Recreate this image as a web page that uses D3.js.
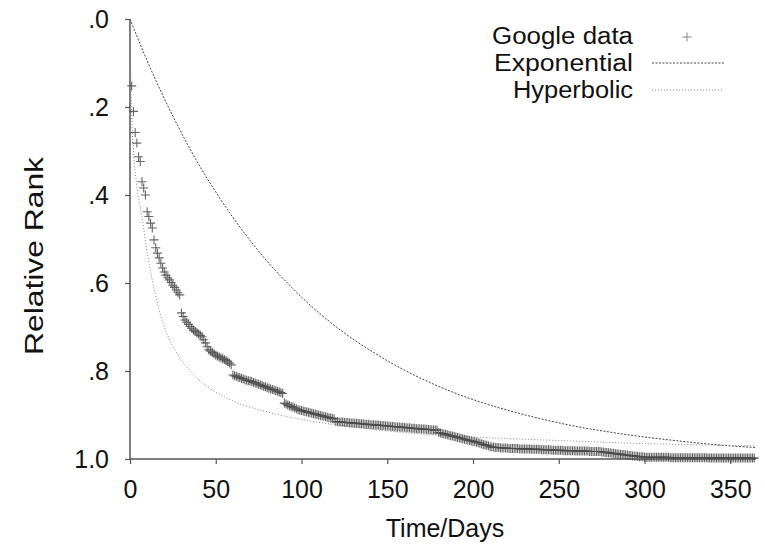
<!DOCTYPE html>
<html>
<head>
<meta charset="utf-8">
<script src="https://cdn.jsdelivr.net/npm/d3@7"></script>
<style>
  html, body { margin: 0; padding: 0; background: #fff; }
  svg { display: block; }
  text { font-family: "Liberation Sans", Arial, Helvetica, sans-serif; fill: #111; }
</style>
</head>
<body>
<svg id="chart" width="765" height="546"></svg>
<script>
// ---------------- data ----------------
const xTicks = [0, 50, 100, 150, 200, 250, 300, 350];
const yTicks = [0, 0.2, 0.4, 0.6, 0.8, 1.0];
const yTickLabels = [".0", ".2", ".4", ".6", ".8", "1.0"];

const seriesNames = ["Google data", "Exponential", "Hyperbolic"];

// Google data: one value per day, starting at day 1
const googleStartDay = 1;
const googleRank = [
  .152,.210,.258,.282,.313,.324,.370,.384,.400,.438,
  .449,.464,.475,.502,.520,.532,.543,.555,.566,.575,
  .582,.588,.593,.599,.605,.610,.616,.622,.627,.668,
  .676,.684,.689,.694,.699,.703,.707,.710,.713,.716,
  .719,.722,.729,.736,.745,.752,.755,.758,.761,.764,
  .766,.768,.770,.772,.774,.776,.779,.782,.786,.809,
  .811,.812,.814,.815,.817,.818,.820,.821,.822,.823,
  .824,.826,.827,.829,.830,.832,.833,.835,.836,.838,
  .839,.841,.842,.843,.845,.846,.848,.849,.851,.873,
  .875,.877,.879,.881,.882,.884,.886,.888,.889,.890,
  .891,.892,.893,.894,.895,.896,.897,.898,.899,.900,
  .901,.902,.903,.904,.905,.906,.907,.908,.909,.915,
  .915,.916,.916,.916,.917,.917,.917,.918,.918,.918,
  .919,.919,.919,.920,.920,.920,.921,.921,.921,.922,
  .922,.922,.923,.923,.923,.924,.924,.924,.925,.925,
  .925,.926,.926,.926,.927,.927,.927,.928,.928,.928,
  .929,.929,.929,.930,.930,.930,.931,.931,.931,.932,
  .932,.932,.933,.933,.933,.934,.934,.934,.934,.940,
  .941,.942,.943,.944,.945,.946,.947,.948,.949,.950,
  .951,.952,.953,.954,.955,.956,.957,.958,.959,.960,
  .961,.962,.963,.964,.966,.967,.968,.969,.970,.972,
  .973,.973,.974,.974,.974,.975,.975,.975,.975,.975,
  .976,.976,.976,.976,.976,.976,.977,.977,.977,.977,
  .977,.977,.977,.978,.978,.978,.978,.978,.978,.979,
  .979,.979,.979,.979,.979,.980,.980,.980,.980,.980,
  .980,.980,.981,.981,.981,.981,.981,.981,.981,.982,
  .982,.982,.982,.982,.982,.982,.982,.983,.983,.983,
  .983,.983,.983,.983,.984,.984,.985,.985,.986,.986,
  .987,.987,.988,.988,.989,.989,.990,.990,.991,.991,
  .992,.992,.993,.993,.994,.994,.995,.995,.995,.996,
  .996,.996,.996,.996,.996,.996,.996,.996,.996,.996,
  .996,.996,.996,.996,.997,.997,.997,.997,.997,.997,
  .997,.997,.997,.997,.997,.997,.997,.997,.997,.997,
  .997,.997,.997,.997,.997,.997,.998,.998,.998,.998,
  .998,.998,.998,.998,.998,.998,.998,.998,.998,.998,
  .998,.998,.998,.998,.998,.998,.998,.998,.998,.998,
  .998,.998,.998,.998
];

// Exponential fit
const expDays = [0, 10, 20, 30, 40, 50, 60, 70, 80, 90, 100, 120, 140, 160, 180, 200, 220, 240, 260, 280, 300, 320, 340, 365];
const expRank = [0, .095, .181, .259, .330, .393, .451, .503, .551, .593, .632, .699, .753, .798, .835, .865, .889, .909, .926, .939, .950, .959, .967, .974];

// Hyperbolic fit
const hypDays = [0, 0.5, 1, 2, 4, 7, 10, 15, 20, 26, 35, 45, 60, 80, 100, 130, 160, 200, 250, 300, 365];
const hypRank = [0, .15, .22, .30, .38, .45, .53, .63, .70, .75, .80, .835, .868, .893, .910, .927, .940, .950, .958, .965, .970];

// ---------------- chart ----------------
const svg = d3.select("#chart");
const x = d3.scaleLinear().domain([0, 365]).range([130, 756]);
const y = d3.scaleLinear().domain([0, 1]).range([19, 459]);

const axisColor = "#555";

// Y axis
const yAxis = svg.append("g")
  .attr("transform", `translate(${x(0)},0)`)
  .call(d3.axisLeft(y).tickValues(yTicks).tickSize(5).tickPadding(16)
        .tickFormat((d, i) => yTickLabels[i]));
// X axis
const xAxis = svg.append("g")
  .attr("transform", `translate(0,${y(1)})`)
  .call(d3.axisBottom(x).tickValues(xTicks).tickSize(5).tickPadding(16)
        .tickFormat(d3.format("d")));

[yAxis, xAxis].forEach(g => {
  g.select(".domain").attr("stroke", axisColor).attr("stroke-width", 1.5);
  g.selectAll(".tick line").attr("stroke", axisColor).attr("stroke-width", 1.2);
  g.selectAll(".tick text")
    .attr("font-family", '"Liberation Sans", Arial, sans-serif')
    .attr("font-size", 25).attr("fill", "#111");
});
yAxis.select(".domain").attr("d", `M0,${y(0)}V${y(1)}`);
xAxis.select(".domain").attr("d", `M${x(0)},0H${x(365)}`);

// Axis titles
svg.append("text")
  .attr("x", 445).attr("y", 537)
  .attr("text-anchor", "middle")
  .attr("font-size", 25)
  .text("Time/Days");

svg.append("text")
  .attr("transform", "translate(43,256) rotate(-90)")
  .attr("text-anchor", "middle")
  .attr("font-size", 25)
  .attr("textLength", 198)
  .attr("lengthAdjust", "spacingAndGlyphs")
  .text("Relative Rank");

// Curves
const line = d3.line().x(d => x(d[0])).y(d => y(d[1])).curve(d3.curveMonotoneX);

svg.append("path")
  .datum(expDays.map((d, i) => [d, expRank[i]]))
  .attr("d", line)
  .attr("fill", "none")
  .attr("stroke", "#444")
  .attr("stroke-width", 1)
  .attr("stroke-dasharray", "2,1.5");

svg.append("path")
  .datum(hypDays.map((d, i) => [d, hypRank[i]]))
  .attr("d", line)
  .attr("fill", "none")
  .attr("stroke", "#888")
  .attr("stroke-width", 1)
  .attr("stroke-dasharray", "1,2");

// Google data points as "+" markers
const half = 4.5;
const plusPath = `M${-half},0H${half}M0,${-half}V${half}`;
svg.append("g")
  .selectAll("path")
  .data(googleRank.map((v, i) => [googleStartDay + i, v]))
  .join("path")
  .attr("transform", d => `translate(${x(d[0])},${y(d[1])})`)
  .attr("d", plusPath)
  .attr("fill", "none")
  .attr("stroke", "#4a4a4a")
  .attr("stroke-opacity", 0.85)
  .attr("stroke-width", 1.1);

// Legend
const legendTextX = 633;
const legendRows = [44, 71, 98];
const legendWidths = [141, 139, 120];
seriesNames.forEach((name, i) => {
  svg.append("text")
    .attr("x", legendTextX).attr("y", legendRows[i])
    .attr("text-anchor", "end")
    .attr("font-size", 23)
    .attr("textLength", legendWidths[i])
    .attr("lengthAdjust", "spacingAndGlyphs")
    .text(name);
});
svg.append("path")
  .attr("transform", `translate(687,37)`)
  .attr("d", plusPath)
  .attr("fill", "none").attr("stroke", "#888").attr("stroke-width", 1);
svg.append("line")
  .attr("x1", 652).attr("x2", 724).attr("y1", 63).attr("y2", 63)
  .attr("stroke", "#444").attr("stroke-width", 1).attr("stroke-dasharray", "2,1.5");
svg.append("line")
  .attr("x1", 652).attr("x2", 724).attr("y1", 90).attr("y2", 90)
  .attr("stroke", "#888").attr("stroke-width", 1).attr("stroke-dasharray", "1,2");
</script>
</body>
</html>
